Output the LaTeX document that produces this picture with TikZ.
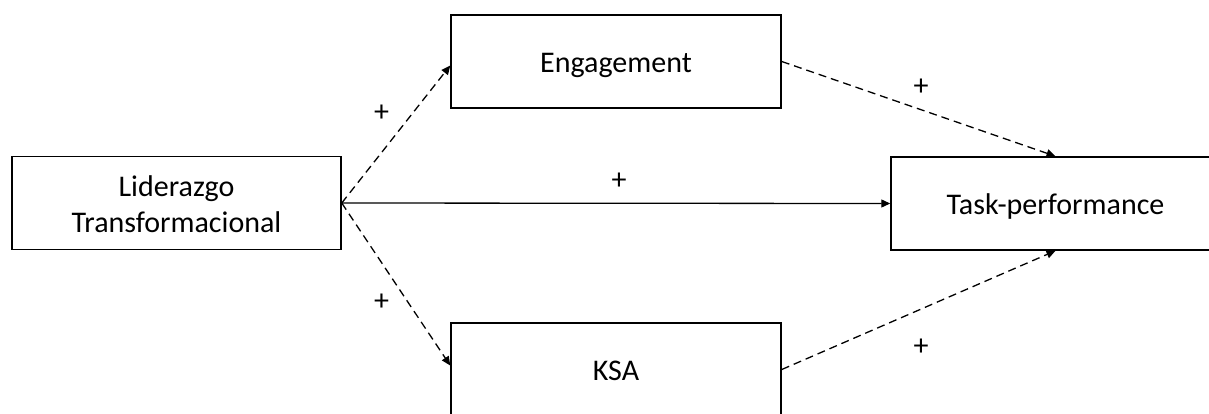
\documentclass[tikz,border=0pt]{standalone}
\usepackage{fontspec}
\setmainfont{Carlito}
\usetikzlibrary{arrows.meta,calc}
\newcommand{\dn}[1]{\raisebox{0pt}[21pt][0pt]{#1}}
\begin{document}
\begin{tikzpicture}[x=1pt,y=-1pt,
  box/.style={draw=black,line width=1.5pt,minimum width=329pt,minimum height=93pt,inner sep=0pt,align=center,font=\fontsize{30}{36}\selectfont},
  conn/.style={line width=1.3pt,-{Triangle[length=9pt,width=8pt]}},
  dconn/.style={conn,dash pattern=on 8pt off 5pt},
  lbl/.style={font=\fontsize{30}{30}\selectfont,inner sep=0pt}]
\useasboundingbox (0,0) rectangle (1209,413);
\fill[white] (0,0) rectangle (1209,413);
\node[box] (lid) at (176.5,203) {\raisebox{0pt}[20pt][34pt]{\begin{tabular}[t]{@{}c@{}}Liderazgo\\Transformacional\end{tabular}}};
\node[box,minimum width=330pt] (eng) at (616,61.5) {\dn{Engagement}};
\node[box,minimum width=330pt] (ksa) at (616,369.5) {\dn{KSA}};
\node[box] (task) at (1055.5,203.5) {\dn{Task-performance}};
\draw[conn] (lid.east) -- (task.west);
\draw[dconn] (lid.east) -- ($(eng.west)+(0,4)$);
\draw[dconn] (lid.east) -- ($(ksa.west)+(0,-4)$);
\draw[dconn] (eng.east) -- (task.north);
\draw[dconn] (ksa.east) -- (task.south);
\node[lbl] (p1) at (381.5,113) {+};
\node[lbl] (p2) at (381.5,302) {+};
\node[lbl] (p3) at (619,181) {+};
\node[lbl] (p4) at (921,87) {+};
\node[lbl] (p5) at (921,347) {+};
\end{tikzpicture}
\end{document}
